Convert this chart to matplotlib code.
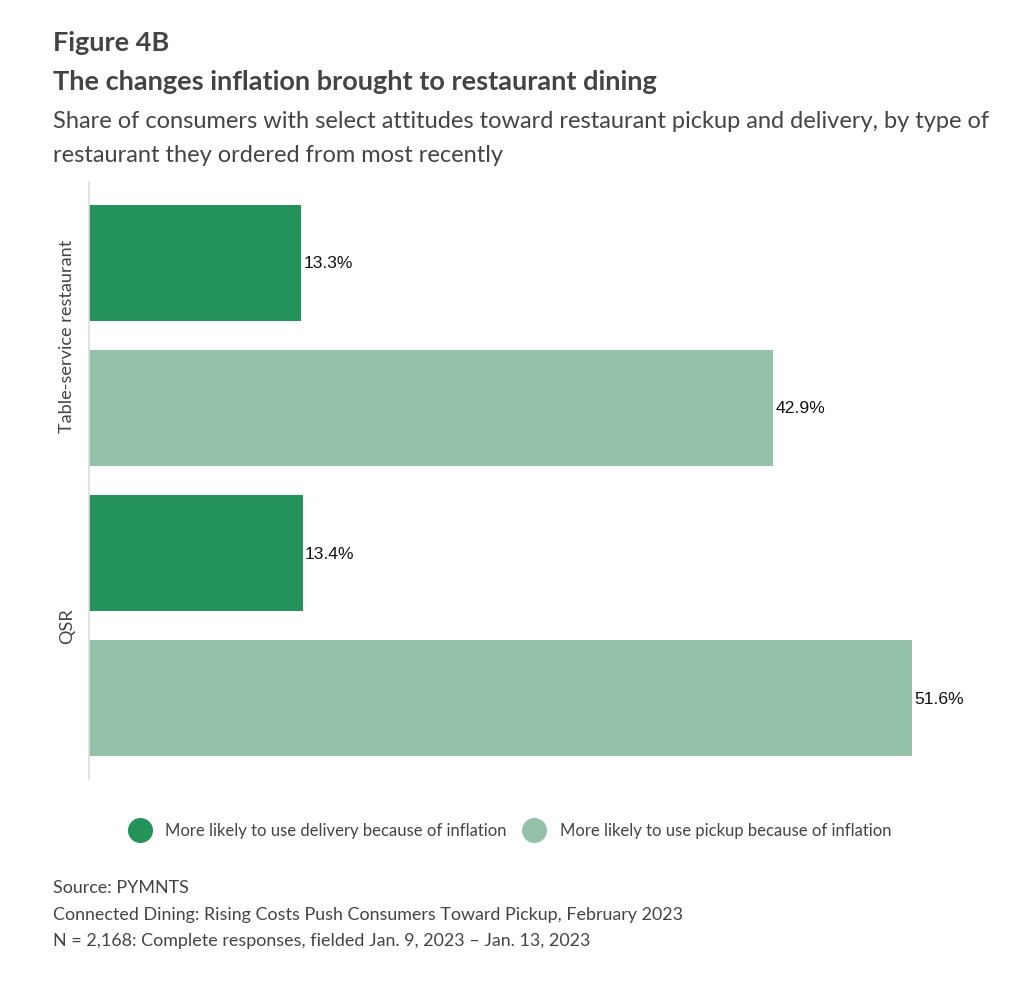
import matplotlib
matplotlib.use("Agg")
import matplotlib.pyplot as plt
from matplotlib.lines import Line2D

categories = ["Table-service restaurant", "QSR"]
series_names = ["More likely to use delivery because of inflation",
                "More likely to use pickup because of inflation"]
delivery = [13.3, 13.4]
pickup = [42.9, 51.6]
colors = ["#24935A", "#93C2A8"]

W, H = 1030, 987
fig = plt.figure(figsize=(W / 100, H / 100), dpi=100)
fig.patch.set_facecolor("white")

def fx(px):
    return px / W

def fy(py):
    return 1 - py / H

ax_left, ax_right, ax_top, ax_bot = 89, 1000, 183, 780
ax = fig.add_axes([fx(ax_left), fy(ax_bot), fx(ax_right - ax_left), (ax_bot - ax_top) / H])

px_per_unit = (913 - 90) / 51.6
ax.set_xlim(0, (ax_right - ax_left) / px_per_unit)
ax.set_ylim(3.557, -0.557)

positions = []
values = []
cols = []
for i, cat in enumerate(categories):
    positions += [2 * i, 2 * i + 1]
    values += [delivery[i], pickup[i]]
    cols += [colors[0], colors[1]]

ax.barh(positions, values, height=0.8, color=cols, edgecolor="none")
for p, v in zip(positions, values):
    ax.text(v + 0.15, p, f"{v:.1f}%", va="center", ha="left",
            fontsize=12.6, family="Liberation Sans", color="#111111")

for s in ["top", "right", "bottom"]:
    ax.spines[s].set_visible(False)
ax.spines["left"].set_color("#dddddd")
ax.spines["left"].set_linewidth(1.2)
ax.set_xticks([])
ax.set_yticks([])

for i, cat in enumerate(categories):
    ax.text(-22 / px_per_unit, 2 * i + 0.5, cat, rotation=90, ha="center", va="center",
            fontsize=13.1, family="Lato", color="#444444")

# Titles
fig.text(fx(53), fy(43), "Figure 4B", fontsize=19.5, fontweight="bold", family="Lato",
         color="#444444", va="center", ha="left")
fig.text(fx(53), fy(82), "The changes inflation brought to restaurant dining", fontsize=19.5,
         fontweight="bold", family="Lato", color="#444444", va="center", ha="left")
fig.text(fx(53), fy(121), "Share of consumers with select attitudes toward restaurant pickup and delivery, by type of",
         fontsize=17, family="Lato", color="#444444", va="center", ha="left")
fig.text(fx(53), fy(156), "restaurant they ordered from most recently",
         fontsize=17, family="Lato", color="#444444", va="center", ha="left")

# Legend
leg_y = 831
for cx, tx, c, name in [(140, 165, colors[0], series_names[0]), (534, 560, colors[1], series_names[1])]:
    fig.add_artist(Line2D([fx(cx)], [fy(leg_y)], marker="o", markersize=17,
                          color=c, linestyle="none", transform=fig.transFigure))
    fig.text(fx(tx), fy(leg_y), name, fontsize=12, family="Lato", color="#444444",
             va="center", ha="left")

# Source
src = ["Source: PYMNTS",
       "Connected Dining: Rising Costs Push Consumers Toward Pickup, February 2023",
       "N = 2,168: Complete responses, fielded Jan. 9, 2023 \u2013 Jan. 13, 2023"]
for yy, t in zip([888, 915, 941], src):
    fig.text(fx(53), fy(yy), t, fontsize=12.9, family="Lato", color="#444444",
             va="center", ha="left")

fig.savefig("out.png", dpi=100, facecolor="white")
